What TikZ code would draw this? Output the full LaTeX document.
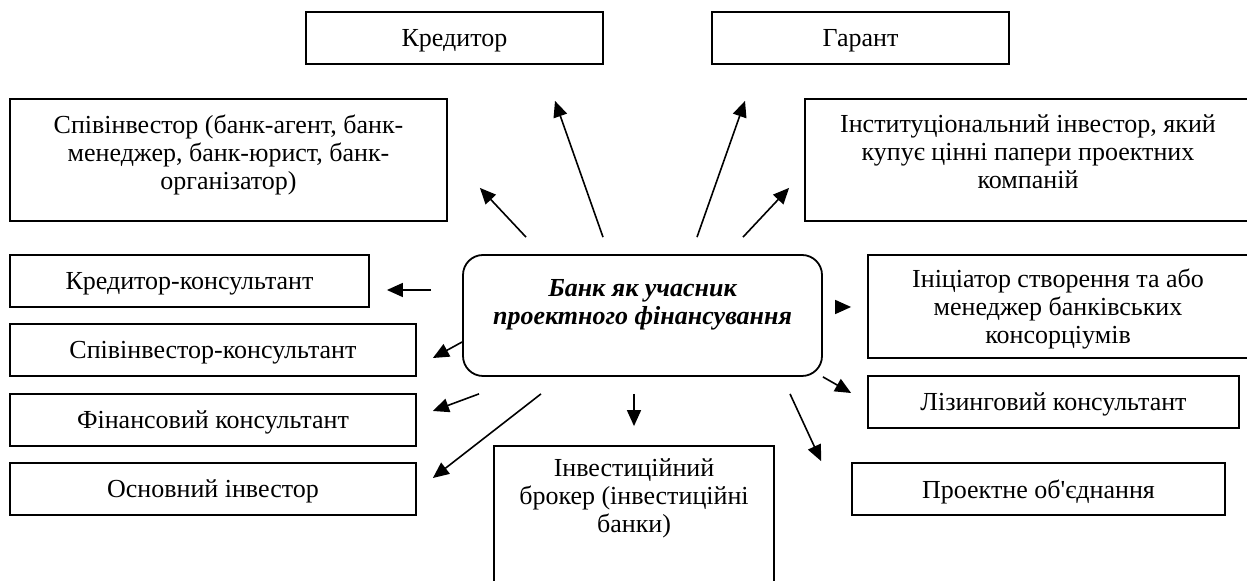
\documentclass[tikz,border=0pt]{standalone}
\usepackage{fontspec}
\setmainfont{Liberation Serif}[Ligatures=TeXOff]
\usepackage{tikz}
\usetikzlibrary{arrows.meta,calc}

\begin{document}
\begin{tikzpicture}[
  x=0.5pt,y=-0.5pt,
  frame/.style={draw=black,line width=0.9pt,align=center,inner sep=0pt,minimum height=26pt,font=\fontsize{13pt}{14pt}\selectfont},
  box/.style={frame,text depth=0pt},
  bank/.style={frame,rounded corners=10pt,font=\fontsize{13pt}{14pt}\selectfont\bfseries\itshape},
  arr/.style={-{Triangle[length=8pt,width=7pt]},line width=0.8pt}
]
\useasboundingbox (0,0) rectangle (1247,581);
\clip (0,0) rectangle (1247,581);
\node[bank,minimum width=179.5pt,minimum height=60.5pt] (bank) at (642.5,315.5) {Банк як учасник\\проектного фінансування\\~};
\node[box,minimum width=148.5pt] (kred) at (454.5,38) {Кредитор};
\node[box,minimum width=148.5pt] (garant) at (860.5,38) {Гарант};
\node[box,minimum width=218.5pt,minimum height=61pt,text depth=8pt] (spiv) at (228.5,160) {Співінвестор (банк-агент, банк-\\менеджер, банк-юрист, банк-\\організатор)};
\node[box,minimum width=223pt,minimum height=61pt,text depth=8pt] (inst) at (1028,160) {Інституціональний інвестор, який\\купує цінні папери проектних\\компаній};
\node[box,minimum width=179.5pt] (kk) at (189.5,281) {Кредитор-консультант};
\node[box,minimum width=203pt] (sk) at (213,350) {Співінвестор-консультант};
\node[box,minimum width=203pt] (fk) at (213,420) {Фінансовий консультант};
\node[box,minimum width=203pt] (oi) at (213,489) {Основний інвестор};
\node[frame,minimum width=140pt,minimum height=78pt,text depth=-3pt] (broker) at (634,524) {Інвестиційний\\брокер (інвестиційні\\банки)\\~\\~};
\node[box,minimum width=190pt,minimum height=51.5pt,text depth=-4pt] (init) at (1058,306.5) {Ініціатор створення та або\\менеджер банківських\\консорціумів};
\node[box,minimum width=185.5pt] (lk) at (1053.5,402) {Лізинговий консультант};
\node[box,minimum width=186.5pt] (po) at (1038.5,489) {Проектне об'єднання};
\draw[arr] ([shift={(-116.5,-17)}]bank.north) -- ([shift={(32,-34)}]spiv.south east);
\draw[arr] ([shift={(-39.5,-17)}]bank.north) -- ([shift={(100.5,36)}]kred.south);
\draw[arr] ([shift={(54.5,-17)}]bank.north) -- ([shift={(-115.5,36)}]garant.south);
\draw[arr] ([shift={(100.5,-17)}]bank.north) -- ([shift={(-15,-34)}]inst.south west);
\draw[arr] ([shift={(-31,-25.5)}]bank.west) -- ([shift={(17,9)}]kk.east);
\draw[arr] ([shift={(0,26.5)}]bank.west) -- ([shift={(16,8)}]sk.east);
\draw[arr] ([shift={(-163.5,17)}]bank.south) -- ([shift={(16,-9)}]fk.east);
\draw[arr] ([shift={(-101.5,17)}]bank.south) -- ([shift={(16,-11)}]oi.east);
\draw[arr] ([shift={(-8.5,17)}]bank.south) -- ([shift={(0,-19)}]broker.north);
\draw[arr] ([shift={(147.5,17)}]bank.south) -- ([shift={(-30,-1)}]po.north west);
\draw[arr] (bank.south east) -- ([shift={(-16,-9)}]lk.west);
\draw[arr] ([shift={(15,-8.5)}]bank.east) -- ([shift={(-16,0.5)}]init.west);
\end{tikzpicture}
\end{document}
